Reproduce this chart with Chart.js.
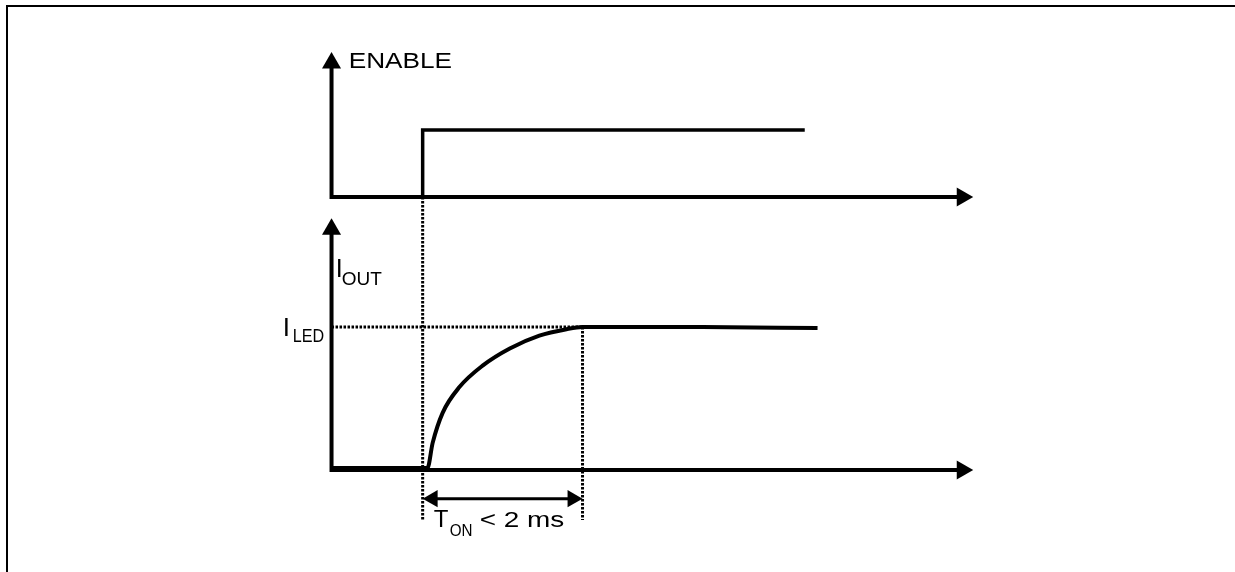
<!DOCTYPE html>
<html>
<head>
<meta charset="utf-8">
<script src="https://cdn.jsdelivr.net/npm/chart.js@4/dist/chart.umd.min.js"></script>
<style>
  html, body { margin: 0; padding: 0; background: #fff; }
  #wrap { position: relative; width: 1235px; height: 572px; overflow: hidden; }
  #frame { position: absolute; left: 6px; top: 5px; right: -10px; bottom: -10px;
           border-left: 2px solid #000; border-top: 2px solid #000; }
  canvas { position: absolute; left: 0; top: 0; }
</style>
</head>
<body>
<div id="wrap">
  <div id="frame"></div>
  <canvas id="timing" width="1235" height="572"></canvas>
</div>
<script>
// 時間單位 ms，t = 0 為 ENABLE 上升沿
const axisOrigin = -1.14;      // 兩個座標軸的原點
const axisTimeEnd = 6.75;      // 時間軸箭頭中心
const enableAxisTop = 2.0;     // ENABLE 軸箭頭中心
const ioutAxisTop = 1.683;     // I_OUT 軸箭頭中心

// ENABLE 訊號
const enableTime = [-1.14, 0, 0, 4.78];
const enableLevel = [0, 0, 1, 1];

// I_OUT 訊號 (以 I_LED 為 1)
const ioutTime = [-1.14, 0.06, 0.125, 0.25, 0.46, 0.75, 1.09, 1.46, 1.8, 2.0, 3.5, 4.94];
const ioutLevel = [0.015, 0.015, 0.19, 0.40, 0.58, 0.73, 0.85, 0.94, 0.985, 1.0, 1.0, 0.993];

const iLed = 1;
const tonStart = 0;
const tonEnd = 2;
const tonArrowLevel = -0.2;
const guideBottom = -0.35;
const guideTopShared = 1.91;   // 上方 ENABLE 軸的位置 (換算成 I_OUT 座標)

const pts = (xs, ys) => xs.map((x, i) => ({ x: x, y: ys[i] }));

function line(data, yAxis, width, dash) {
    return {
        data: data,
        yAxisID: yAxis,
        showLine: true,
        borderColor: '#000',
        borderWidth: width,
        borderDash: dash || [],
        pointRadius: 0,
        fill: false
    };
}

function arrows(data, yAxis, radius, rotations) {
    return {
        data: data,
        yAxisID: yAxis,
        showLine: false,
        pointStyle: 'triangle',
        pointRadius: radius,
        rotation: rotations,
        backgroundColor: '#000',
        borderColor: '#000',
        borderWidth: 0
    };
}

// 文字標籤：用座標軸換算位置
const labels = [
    { t: -0.9125, v: 1.925, axis: 'yEn', parts: [
        { text: 'ENABLE', dx: -1, dy: 0, size: 22, sx: 1.19 } ] },
    { t: -1.0625, v: 1.35, axis: 'yOut', parts: [
        { text: 'I', dx: -2, dy: 0, size: 25, sx: 1 },
        { text: 'OUT', dx: 4, dy: 8, size: 19, sx: 1.0 } ] },
    { t: -1.725, v: 0.937, axis: 'yOut', parts: [
        { text: 'I', dx: -2, dy: 0, size: 26, sx: 1 },
        { text: 'LED', dx: 8, dy: 6, size: 19, sx: 0.85 } ] },
    { t: 0.15, v: -0.4, axis: 'yOut', parts: [
        { text: 'T', dx: -1, dy: 0, size: 24, sx: 1 },
        { text: 'ON', dx: 15, dy: 9, size: 16, sx: 0.95 },
        { text: '< 2 ms', dx: 45, dy: 0, size: 22, sx: 1.27 } ] }
];

const labelPlugin = {
    id: 'labelPlugin',
    afterDatasetsDraw(chart) {
        const ctx = chart.ctx;
        labels.forEach(l => {
            const x0 = chart.scales.x.getPixelForValue(l.t);
            const y0 = chart.scales[l.axis].getPixelForValue(l.v);
            l.parts.forEach(p => {
                ctx.save();
                ctx.font = p.size + 'px "Liberation Sans", Arial, sans-serif';
                ctx.fillStyle = '#000';
                ctx.textBaseline = 'alphabetic';
                ctx.translate(x0 + p.dx, y0 + p.dy);
                ctx.scale(p.sx, 1);
                ctx.fillText(p.text, 0, 0);
                ctx.restore();
            });
        });
    }
};

const ctx = document.getElementById('timing').getContext('2d');
const chart = new Chart(ctx, {
    type: 'scatter',
    data: {
        datasets: [
            // 座標軸
            line(pts([axisOrigin, axisOrigin, axisTimeEnd], [enableAxisTop, 0, 0]), 'yEn', 4),
            line(pts([axisOrigin, axisOrigin, axisTimeEnd], [ioutAxisTop, 0, 0]), 'yOut', 4),
            arrows(pts([axisOrigin, axisTimeEnd], [enableAxisTop, 0]), 'yEn', 11, [0, 90]),
            arrows(pts([axisOrigin, axisTimeEnd], [ioutAxisTop, 0]), 'yOut', 11, [0, 90]),
            // 訊號
            line(pts(enableTime, enableLevel), 'yEn', 3.5),
            Object.assign(line(pts(ioutTime, ioutLevel), 'yOut', 4), { cubicInterpolationMode: 'monotone' }),
            // 虛線輔助線
            line(pts([tonStart, tonStart], [guideTopShared, guideBottom]), 'yOut', 3, [2.5, 1.5]),
            line(pts([tonEnd, tonEnd], [iLed, guideBottom]), 'yOut', 3, [2.5, 1.5]),
            line(pts([axisOrigin, tonEnd], [iLed, iLed]), 'yOut', 3, [2.5, 1.5]),
            // T_ON 雙向箭頭
            line(pts([tonStart + 0.125, tonEnd - 0.125], [tonArrowLevel, tonArrowLevel]), 'yOut', 3),
            arrows(pts([tonStart + 0.125, tonEnd - 0.125], [tonArrowLevel, tonArrowLevel]), 'yOut', 10, [270, 90])
        ]
    },
    options: {
        responsive: false,
        animation: false,
        devicePixelRatio: 1,
        layout: { padding: 0, autoPadding: false },
        plugins: {
            legend: { display: false },
            tooltip: { enabled: false }
        },
        scales: {
            x: { type: 'linear', display: false, min: -5.2875, max: 10.1625 },
            yEn: { type: 'linear', display: false, position: 'left', min: -5.597, max: 2.940 },
            yOut: { type: 'linear', display: false, position: 'left', min: -0.713, max: 3.287 }
        }
    },
    plugins: [labelPlugin]
});
</script>
</body>
</html>
